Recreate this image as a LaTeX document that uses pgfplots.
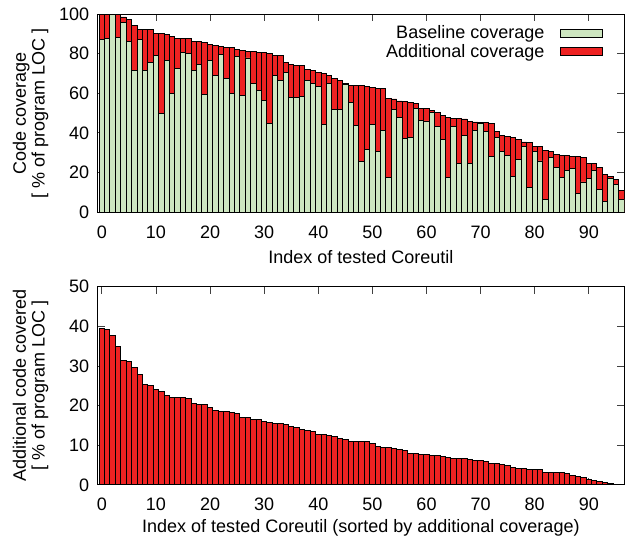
\documentclass[border=0pt]{standalone}
\usepackage{fontspec}
\setmainfont{Liberation Sans}
\usepackage{pgfplots}
\usepackage{pgfplotstable}
\pgfplotsset{compat=1.18}
\definecolor{basegreen}{RGB}{205,230,192}
\definecolor{addred}{RGB}{238,34,34}
\newcommand\lbl{\fontsize{13.5}{14}\selectfont}

\pgfplotstableread{
x total base
0 100 87.0
1 100 87.7
2 100 100
3 100 88.2
4 98.5 95.8
5 97.1 86.2
6 94.3 71.5
7 92.3 86.9
8 92.3 71.4
9 92.3 75.6
10 90.1 79.1
11 90.1 49.8
12 89.7 76.4
13 88.7 60.1
14 87.7 72.7
15 87.7 80.6
16 87.7 80.1
17 86.2 71.7
18 85.9 74.6
19 85.7 59.4
20 84.8 76.6
21 84.3 68.9
22 83.7 79.8
23 83.2 67.5
24 83.2 59.9
25 82.2 78.8
26 81.5 58.9
27 81.1 77.8
28 81.1 65.0
29 80.8 61.6
30 80.6 56.4
31 80.1 44.8
32 79.1 69.0
33 79.1 66.2
34 75.3 70.7
35 74.4 57.7
36 74.1 57.7
37 74.1 58.6
38 72.2 66.2
39 71.5 64.8
40 70.7 63.3
41 70.2 44.4
42 69.2 65.0
43 67.3 51.7
44 66.3 51.9
45 64.8 64.3
46 64.1 55.4
47 64.1 43.9
48 63.8 25.6
49 63.5 31.5
50 62.8 44.1
51 62.3 30.6
52 62.3 41.2
53 57.4 17.5
54 57.1 52.0
55 56.1 47.8
56 55.7 37.0
57 55.2 37.7
58 54.7 52.5
59 52.2 46.3
60 52.2 46.0
61 51.2 50.3
62 50.5 43.3
63 48.8 36.9
64 47.6 17.5
65 47.5 43.3
66 47.3 24.7
67 47.0 38.9
68 45.8 24.7
69 45.5 41.2
70 45.3 44.8
71 45.3 40.7
72 44.9 28.1
73 40.7 37.7
74 38.9 30.6
75 38.2 28.6
76 37.7 18.2
77 36.7 26.8
78 35.4 33.3
79 35.0 12.5
80 33.0 30.8
81 33.0 25.8
82 31.1 6.6
83 30.8 27.8
84 29.3 22.4
85 28.8 17.5
86 28.8 21.2
87 28.1 21.9
88 27.9 9.6
89 27.6 15.2
90 24.7 17.0
91 24.7 21.0
92 22.6 11.3
93 19.0 5.2
94 18.0 17.2
95 16.7 13.8
96 10.9 6.6
}\topdata

\pgfplotstableread{
x add
0 39.6
1 39.3
2 37.6
3 34.9
4 31.5
5 31.1
6 29.7
7 27.8
8 25.4
9 25.2
10 24.1
11 23.6
12 22.6
13 22.0
14 22.0
15 22.0
16 21.9
17 20.5
18 20.3
19 20.2
20 19.6
21 18.9
22 18.6
23 18.5
24 18.2
25 18.0
26 17.0
27 17.0
28 16.5
29 16.5
30 16.1
31 15.8
32 15.5
33 15.4
34 15.2
35 14.7
36 14.6
37 13.9
38 13.7
39 13.4
40 12.7
41 12.7
42 12.4
43 12.1
44 11.6
45 11.5
46 11.0
47 11.0
48 11.0
49 11.0
50 10.4
51 9.7
52 9.5
53 9.5
54 9.1
55 8.9
56 8.6
57 7.9
58 7.9
59 7.7
60 7.7
61 7.3
62 7.3
63 7.1
64 6.8
65 6.7
66 6.6
67 6.6
68 6.3
69 6.2
70 6.1
71 5.8
72 5.4
73 5.3
74 5.1
75 4.9
76 4.3
77 4.2
78 4.1
79 3.9
80 3.9
81 3.9
82 3.1
83 3.1
84 3.1
85 3.1
86 2.9
87 2.3
88 2.1
89 1.9
90 1.4
91 1.2
92 0.8
93 0.6
94 0.3
95 0.1
}\botdata

\pgfplotsset{
  every axis/.append style={
    scale only axis,
    width=394.5pt, height=148.5pt,
    xmin=-0.75, xmax=96.5,
    xtick={0,10,...,90},
    tick align=inside,
    major tick length=5.5pt,
    tick style={black!75, line width=0.6pt},
    axis line style={black, line width=0.75pt},
    tick label style={font=\lbl},
    xticklabel style={anchor=base, yshift=-19.5pt},
    yticklabel style={xshift=-3pt},
    label style={font=\lbl},
    /pgf/number format/assume math mode=true,
    ylabel style={align=center, at={(axis description cs:-0.085,0.5)}, anchor=south, rotate=0},
  },
}

\begin{document}
\begin{tikzpicture}
\begin{axis}[
  name=top,
  ymin=0, ymax=100,
  ytick={0,20,...,100},
  xlabel={Index of tested Coreutil},
  xlabel style={at={(axis description cs:0.5,0)}, anchor=base, yshift=-38.5pt},
  ylabel={Code coverage\\{[} \% of program LOC ]},
  legend plot pos=right,
  legend cell align=right,
  legend image code/.code={\draw[#1] (0pt,-3pt) rectangle (31pt,3pt);},
  legend style={at={(0.96,0.955)}, anchor=north east, draw=none, fill=none,
    font=\lbl, row sep=-1.5pt, inner sep=0pt,
    /tikz/every odd column/.style={column sep=10pt}},
]
\addplot[ybar, bar shift=0pt, bar width=1, fill=addred, draw=black, line width=0.7pt, forget plot] table[x=x, y=total]{\topdata};
\addplot[ybar, bar shift=0pt, bar width=1, fill=basegreen, draw=black, line width=0.7pt, forget plot] table[x=x, y=base]{\topdata};
\addlegendimage{fill=basegreen, draw=black, line width=0.7pt}
\addlegendentry{Baseline coverage}
\addlegendimage{fill=addred, draw=black, line width=0.7pt}
\addlegendentry{Additional coverage}
\end{axis}
\begin{axis}[
  name=bot,
  at={(top.south west)}, anchor=north west, yshift=-56pt,
  ymin=0, ymax=50,
  ytick={0,10,...,50},
  xlabel={Index of tested Coreutil (sorted by additional coverage)},
  xlabel style={at={(axis description cs:0.5,0)}, anchor=base, yshift=-36pt},
  ylabel={Additional code covered\\{[} \% of program LOC ]},
]
\addplot[ybar, bar shift=0pt, bar width=1, fill=addred, draw=black, line width=0.7pt] table[x=x, y=add]{\botdata};
\end{axis}
\pgfresetboundingbox
\path[use as bounding box] ([shift={(-73.3pt,10.5pt)}]top.north west) rectangle ([shift={(2.25pt,-44.25pt)}]bot.south east);
\end{tikzpicture}
\end{document}
